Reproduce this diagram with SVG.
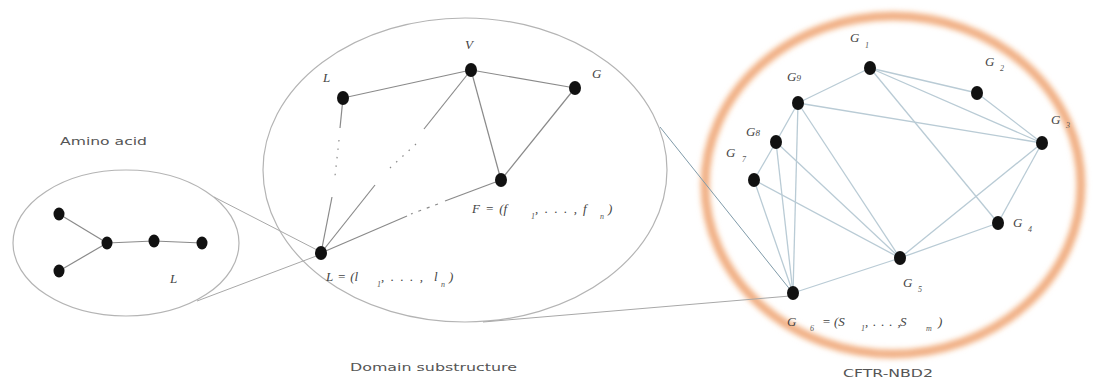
<svg xmlns="http://www.w3.org/2000/svg" width="1093" height="379" viewBox="0 0 1093 379">
<style>
.bg{fill:#fff}
.cont{fill:none;stroke:#b4b4b4;stroke-width:1.2}
.dot{fill:#111}
.e1{stroke:#8a8a8a;stroke-width:1.2;fill:none}
.e2{stroke:#b9cbd5;stroke-width:1.3;fill:none}
.zoom{stroke:#a8a8a8;stroke-width:1;fill:none}
.zoomb{stroke:#7f9aa8;stroke-width:1;fill:none}
.lbl{font-family:"Liberation Serif",serif;font-style:italic;font-size:13px;fill:#444}
.s{font-family:"Liberation Serif",serif;font-style:italic;font-size:8px;fill:#555}
.cap{font-family:"DejaVu Sans",sans-serif;font-size:11px;fill:#555}
</style>
<defs>
<filter id="glow" x="-20%" y="-20%" width="140%" height="140%">
<feGaussianBlur stdDeviation="2.5"/>
</filter>
</defs>
<rect class="bg" width="1093" height="379"/>

<g id="containers">
<g id="amino-acid-ellipse"><ellipse class="cont" cx="126" cy="243" rx="113" ry="73"/></g>
<g id="domain-ellipse"><ellipse class="cont" cx="465" cy="170" rx="202" ry="152"/></g>
<g id="cftr-circle">
<ellipse cx="893" cy="185" rx="188" ry="169" fill="none" stroke="#f8d2b6" stroke-width="11" filter="url(#glow)"/>
<ellipse cx="893" cy="185" rx="188" ry="169" fill="none" stroke="#ec9c6a" stroke-width="3.5" filter="url(#glow)"/>
</g>
</g>

<g id="connectors">
<line class="zoom" x1="214" y1="197" x2="319" y2="251"/>
<line class="zoom" x1="197" y1="301" x2="319" y2="255"/>
<line class="zoomb" x1="660" y1="127" x2="792" y2="292"/>
<line class="zoom" x1="483" y1="322" x2="790" y2="296"/>
<line class="e1" x1="59" y1="214" x2="107" y2="243"/>
<line class="e1" x1="59" y1="271" x2="107" y2="243"/>
<line class="e1" x1="107" y1="243" x2="154" y2="241"/>
<line class="e1" x1="154" y1="241" x2="202" y2="243"/>
<line class="e1" x1="343" y1="98" x2="471" y2="70"/>
<line class="e1" x1="471" y1="70" x2="575" y2="88"/>
<line class="e1" x1="471" y1="70" x2="501" y2="180"/>
<line class="e1" x1="575" y1="88" x2="501" y2="180"/>
<line class="e1" x1="343" y1="98" x2="340" y2="128"/>
<line class="e1" x1="339" y1="140" x2="335" y2="176" stroke-dasharray="1.5 7"/>
<line class="e1" x1="332" y1="197" x2="321" y2="253"/>
<line class="e1" x1="471" y1="70" x2="424" y2="129"/>
<line class="e1" x1="416" y1="144" x2="390" y2="168" stroke-dasharray="1.5 7"/>
<line class="e1" x1="375" y1="185" x2="321" y2="253"/>
<line class="e1" x1="501" y1="180" x2="445" y2="201"/>
<line class="e1" x1="438" y1="204" x2="411" y2="214" stroke-dasharray="3 6"/>
<line class="e1" x1="407" y1="216" x2="321" y2="253"/>
<line class="e2" x1="798" y1="103" x2="870" y2="68"/>
<line class="e2" x1="870" y1="68" x2="977" y2="93"/>
<line class="e2" x1="870" y1="68" x2="1042" y2="143"/>
<line class="e2" x1="870" y1="68" x2="998" y2="223"/>
<line class="e2" x1="977" y1="93" x2="1042" y2="143"/>
<line class="e2" x1="798" y1="103" x2="1042" y2="143"/>
<line class="e2" x1="798" y1="103" x2="776" y2="142"/>
<line class="e2" x1="798" y1="103" x2="793" y2="293"/>
<line class="e2" x1="798" y1="103" x2="900" y2="258"/>
<line class="e2" x1="776" y1="142" x2="754" y2="180"/>
<line class="e2" x1="776" y1="142" x2="793" y2="293"/>
<line class="e2" x1="776" y1="142" x2="900" y2="258"/>
<line class="e2" x1="754" y1="180" x2="900" y2="258"/>
<line class="e2" x1="754" y1="180" x2="793" y2="293"/>
<line class="e2" x1="793" y1="293" x2="900" y2="258"/>
<line class="e2" x1="900" y1="258" x2="1042" y2="143"/>
<line class="e2" x1="900" y1="258" x2="998" y2="223"/>
<line class="e2" x1="1042" y1="143" x2="998" y2="223"/>
</g>

<g id="amino-nodes">
<g id="a1"><ellipse class="dot" cx="59" cy="214" rx="5.5" ry="6.5"/></g>
<g id="a2"><ellipse class="dot" cx="59" cy="271" rx="5.5" ry="6.5"/></g>
<g id="a3"><ellipse class="dot" cx="107" cy="243" rx="5.5" ry="6.5"/></g>
<g id="a4"><ellipse class="dot" cx="154" cy="241" rx="5.5" ry="6.5"/></g>
<g id="a5"><ellipse class="dot" cx="202" cy="243" rx="5.5" ry="6.5"/></g>
<text class="lbl" x="170" y="283" font-size="12">L</text>
</g>

<g id="domain-nodes">
<g id="nL"><ellipse class="dot" cx="343" cy="98" rx="6" ry="7"/><text class="lbl" x="323" y="82">L</text></g>
<g id="nV"><ellipse class="dot" cx="471" cy="70" rx="6" ry="7"/><text class="lbl" x="465" y="49">V</text></g>
<g id="nG"><ellipse class="dot" cx="575" cy="88" rx="6" ry="7"/><text class="lbl" x="592" y="78">G</text></g>
<g id="nF"><ellipse class="dot" cx="501" cy="180" rx="6" ry="7"/>
<text class="lbl" x="472" y="213" word-spacing="2">F = (f</text>
<text class="s" x="531" y="219">1</text>
<text class="lbl" x="535" y="213" letter-spacing="1.6">, . . . ,</text>
<text class="lbl" x="583" y="213">f</text>
<text class="s" x="600" y="219">n</text>
<text class="lbl" x="608" y="213">)</text></g>
<g id="nLbot"><ellipse class="dot" cx="321" cy="253" rx="6" ry="7"/>
<text class="lbl" x="326" y="281" word-spacing="1">L = (l</text>
<text class="s" x="377" y="287">1</text>
<text class="lbl" x="381" y="281" letter-spacing="1.6">, . . . ,</text>
<text class="lbl" x="434" y="281">l</text>
<text class="s" x="441" y="287">n</text>
<text class="lbl" x="449" y="281">)</text></g>
</g>

<g id="cftr-nodes">
<g id="G1"><ellipse class="dot" cx="870" cy="68" rx="6" ry="7"/><text class="lbl" x="850" y="42">G</text><text class="s" x="865" y="48">1</text></g>
<g id="G2"><ellipse class="dot" cx="977" cy="93" rx="6" ry="7"/><text class="lbl" x="985" y="66">G</text><text class="s" x="1000" y="71">2</text></g>
<g id="G3"><ellipse class="dot" cx="1042" cy="143" rx="6" ry="7"/><text class="lbl" x="1051" y="124">G</text><text class="s" x="1066" y="128">3</text></g>
<g id="G4"><ellipse class="dot" cx="998" cy="223" rx="6" ry="7"/><text class="lbl" x="1013" y="227">G</text><text class="s" x="1028" y="232">4</text></g>
<g id="G5"><ellipse class="dot" cx="900" cy="258" rx="6" ry="7"/><text class="lbl" x="903" y="287">G</text><text class="s" x="918" y="292">5</text></g>
<g id="G6"><ellipse class="dot" cx="793" cy="293" rx="6" ry="7"/>
<text class="lbl" x="787" y="326">G</text>
<text class="s" x="810" y="331">6</text>
<text class="lbl" x="822" y="326">=</text>
<text class="lbl" x="834" y="326">(S</text>
<text class="s" x="861" y="331">1</text>
<text class="lbl" x="865" y="326" letter-spacing="0.8">, . . . ,</text>
<text class="lbl" x="900" y="326">S</text>
<text class="s" x="926" y="331">m</text>
<text class="lbl" x="938" y="326">)</text></g>
<g id="G7"><ellipse class="dot" cx="754" cy="180" rx="6" ry="7"/><text class="lbl" x="726" y="157">G</text><text class="s" x="742" y="162">7</text></g>
<g id="G8"><ellipse class="dot" cx="776" cy="142" rx="6" ry="7"/><text class="lbl" x="746" y="136">G<tspan font-size="9">8</tspan></text></g>
<g id="G9"><ellipse class="dot" cx="798" cy="103" rx="6" ry="7"/><text class="lbl" x="787" y="81">G<tspan font-size="9">9</tspan></text></g>
</g>

<g id="captions">
<text class="cap" x="60" y="145" textLength="87" lengthAdjust="spacingAndGlyphs">Amino acid</text>
<text class="cap" x="350" y="371" textLength="167" lengthAdjust="spacingAndGlyphs">Domain substructure</text>
<text class="cap" x="843" y="377" textLength="90" lengthAdjust="spacingAndGlyphs">CFTR-NBD2</text>
</g>
</svg>
